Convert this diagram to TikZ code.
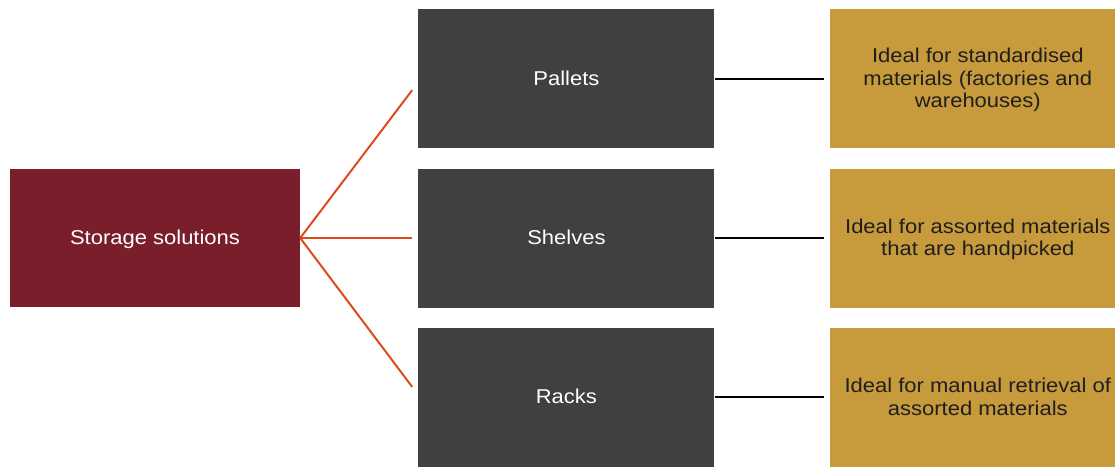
\documentclass[tikz,border=0pt]{standalone}
\usepackage{fontspec}
\setmainfont{Liberation Sans}[FakeStretch=1.1]
\usetikzlibrary{positioning,calc}
\definecolor{storemaroon}{HTML}{7B1E2C}
\definecolor{storegrey}{HTML}{404040}
\definecolor{storegold}{HTML}{C79A3B}
\definecolor{storered}{HTML}{E0481E}

\begin{document}
\begin{tikzpicture}[
font=\fontsize{20}{22.5}\selectfont,
box/.style={inner sep=0pt, align=center, minimum height=139pt, text depth=1.5pt},
rootbox/.style={box, fill=storemaroon, text=white, minimum width=290pt, minimum height=138pt},
typebox/.style={box, fill=storegrey, text=white, minimum width=296pt},
usebox/.style={box, fill=storegold, text=black!88, minimum width=296pt},
branch/.style={storered, line width=2pt},
link/.style={black, line width=2pt},
node distance=20pt
]
\useasboundingbox (0,0) rectangle (1115pt,-466pt);

\node[rootbox] (storage) at (155pt,-238pt) {Storage solutions};

\node[typebox, right=118pt of storage] (shelves) {Shelves};
\node[typebox, above=of shelves] (pallets) {Pallets};
\node[typebox, below=of shelves] (racks) {Racks};

\node[usebox, right=115pt of pallets] (standard) {Ideal for standardised\\materials (factories and\\warehouses)};
\node[usebox, right=115pt of shelves] (assorted) {Ideal for assorted materials\\that are handpicked};
\node[usebox, right=115pt of racks] (manual) {Ideal for manual retrieval of\\assorted materials};

\draw[branch] (storage.east) -- ($(pallets.west)+(-6pt,-11.5pt)$);
\draw[branch] (storage.east) -- ($(shelves.west)+(-6pt,0pt)$);
\draw[branch] (storage.east) -- ($(racks.west)+(-6pt,10.5pt)$);

\draw[link] (pallets.east) -- ($(standard.west)+(-6pt,0pt)$);
\draw[link] (shelves.east) -- ($(assorted.west)+(-6pt,0pt)$);
\draw[link] (racks.east) -- ($(manual.west)+(-6pt,0pt)$);
\end{tikzpicture}
\end{document}
